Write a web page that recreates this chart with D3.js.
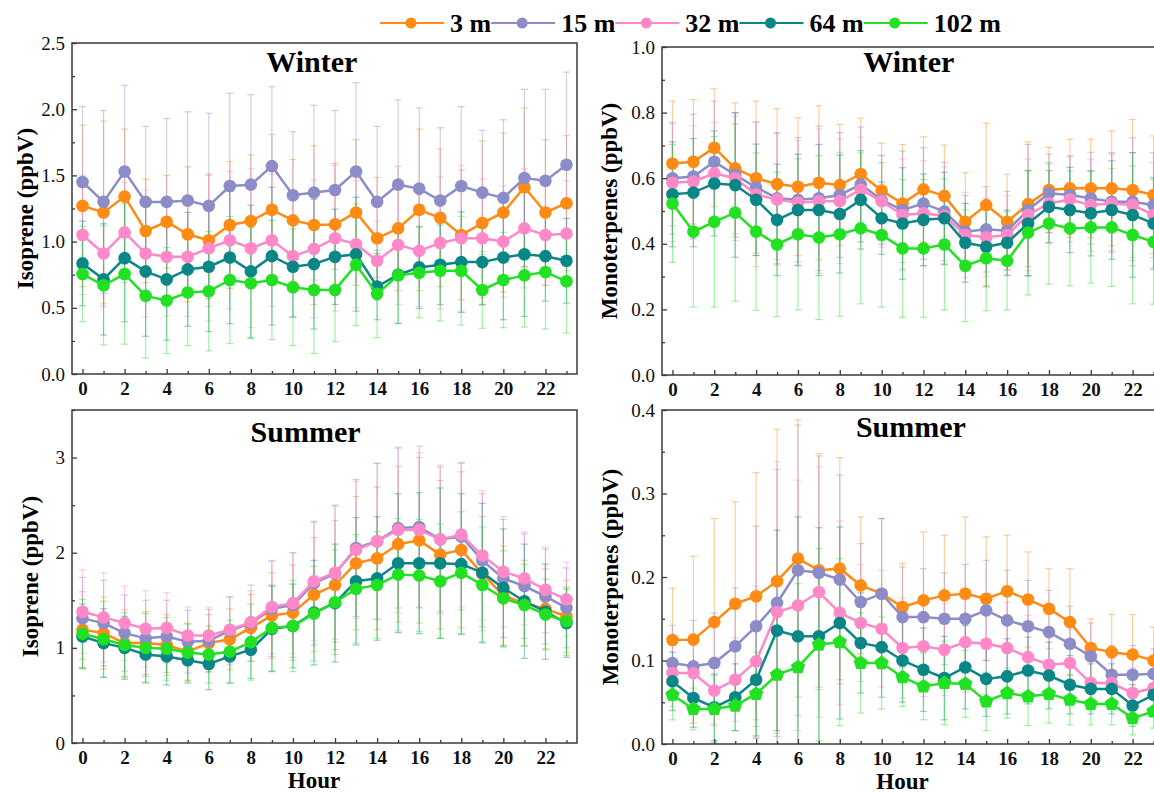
<!DOCTYPE html>
<html>
<head>
<meta charset="utf-8">
<script src="https://cdn.jsdelivr.net/npm/d3@7/dist/d3.min.js"></script>
<style>
  body { margin: 0; background: #fff; }
  svg { display: block; font-family: "Liberation Serif", "Times New Roman", serif; }
</style>
</head>
<body>
<div id="chart"></div>
<script>
const width = 1154;
const height = 793;

const hours = [0,1,2,3,4,5,6,7,8,9,10,11,12,13,14,15,16,17,18,19,20,21,22,23];
const heights = ['3 m', '15 m', '32 m', '64 m', '102 m'];
const colorList = ['#ff8a14', '#8c8cc8', '#ff88c8', '#0b8686', '#22e022'];

// winter isoprene, ppbV (mean / std), one row per height
const winterIsoMean = [
  [1.27,1.22,1.34,1.08,1.15,1.055,1.01,1.125,1.155,1.24,1.16,1.125,1.13,1.22,1.025,1.10,1.24,1.18,1.05,1.14,1.22,1.41,1.22,1.29],
  [1.45,1.30,1.53,1.30,1.30,1.31,1.27,1.42,1.43,1.57,1.35,1.37,1.39,1.53,1.30,1.43,1.40,1.31,1.42,1.37,1.33,1.48,1.46,1.58],
  [1.05,0.91,1.07,0.91,0.885,0.885,0.95,1.01,0.95,1.01,0.89,0.945,1.025,0.98,0.855,0.975,0.93,0.99,1.025,1.025,1.0,1.10,1.05,1.06],
  [0.835,0.715,0.875,0.775,0.715,0.79,0.81,0.88,0.775,0.89,0.81,0.83,0.885,0.905,0.66,0.75,0.805,0.825,0.845,0.845,0.88,0.905,0.89,0.855],
  [0.755,0.67,0.755,0.59,0.555,0.615,0.625,0.71,0.685,0.71,0.655,0.635,0.635,0.825,0.605,0.745,0.765,0.78,0.78,0.635,0.71,0.745,0.77,0.70]
];
const winterIsoSd = [
  [0.61,0.69,0.51,0.39,0.35,0.51,0.50,0.48,0.50,0.57,0.46,0.60,0.46,0.55,0.46,0.47,0.61,0.52,0.49,0.62,0.60,0.60,0.55,0.51],
  [0.57,0.69,0.65,0.57,0.63,0.67,0.70,0.70,0.68,0.60,0.48,0.66,0.60,0.67,0.57,0.64,0.61,0.55,0.60,0.47,0.59,0.67,0.69,0.70],
  [0.45,0.40,0.38,0.48,0.45,0.45,0.55,0.52,0.60,0.50,0.46,0.52,0.55,0.48,0.30,0.45,0.42,0.50,0.55,0.45,0.42,0.45,0.38,0.40],
  [0.32,0.42,0.48,0.49,0.46,0.43,0.49,0.50,0.50,0.52,0.38,0.49,0.36,0.43,0.25,0.37,0.31,0.30,0.38,0.32,0.47,0.47,0.34,0.32],
  [0.36,0.45,0.53,0.47,0.40,0.40,0.45,0.48,0.42,0.45,0.44,0.48,0.39,0.46,0.33,0.36,0.34,0.38,0.41,0.29,0.36,0.39,0.43,0.39]
];

// winter monoterpenes
const winterMonoMean = [
  [0.645,0.65,0.693,0.63,0.60,0.582,0.574,0.586,0.579,0.613,0.562,0.523,0.566,0.546,0.467,0.518,0.467,0.521,0.564,0.569,0.569,0.569,0.564,0.549],
  [0.60,0.605,0.65,0.61,0.572,0.539,0.534,0.539,0.549,0.581,0.534,0.503,0.523,0.498,0.437,0.444,0.44,0.503,0.554,0.549,0.539,0.528,0.528,0.518],
  [0.586,0.59,0.615,0.60,0.55,0.535,0.525,0.53,0.53,0.565,0.53,0.488,0.493,0.485,0.427,0.42,0.427,0.488,0.523,0.535,0.518,0.523,0.518,0.488],
  [0.551,0.556,0.584,0.579,0.534,0.473,0.503,0.503,0.491,0.534,0.478,0.462,0.473,0.478,0.403,0.391,0.403,0.462,0.513,0.503,0.493,0.503,0.488,0.462],
  [0.523,0.437,0.467,0.495,0.437,0.398,0.429,0.419,0.429,0.447,0.427,0.386,0.386,0.398,0.333,0.356,0.348,0.434,0.462,0.447,0.45,0.45,0.427,0.406]
];
const winterMonoSd = [
  [0.19,0.19,0.18,0.20,0.235,0.23,0.21,0.235,0.185,0.17,0.145,0.18,0.16,0.155,0.15,0.25,0.145,0.19,0.13,0.15,0.15,0.175,0.215,0.18],
  [0.17,0.19,0.185,0.19,0.20,0.20,0.19,0.22,0.19,0.175,0.135,0.18,0.17,0.15,0.11,0.13,0.12,0.20,0.12,0.12,0.14,0.15,0.195,0.16],
  [0.18,0.17,0.155,0.19,0.22,0.20,0.19,0.22,0.19,0.16,0.14,0.17,0.16,0.15,0.13,0.12,0.12,0.17,0.12,0.13,0.14,0.15,0.16,0.16],
  [0.16,0.165,0.16,0.22,0.17,0.17,0.17,0.20,0.18,0.15,0.11,0.17,0.14,0.14,0.12,0.12,0.10,0.16,0.11,0.13,0.13,0.15,0.19,0.14],
  [0.18,0.23,0.26,0.27,0.24,0.22,0.23,0.25,0.25,0.23,0.22,0.21,0.21,0.20,0.17,0.16,0.15,0.19,0.185,0.175,0.17,0.18,0.21,0.19]
];

// summer isoprene
const summerIsoMean = [
  [1.19,1.155,1.05,1.05,1.03,0.96,1.05,1.09,1.21,1.34,1.37,1.56,1.66,1.89,1.94,2.09,2.13,1.98,2.03,1.78,1.55,1.47,1.41,1.33],
  [1.31,1.26,1.155,1.10,1.12,1.065,1.075,1.18,1.26,1.41,1.45,1.68,1.78,2.05,2.12,2.26,2.27,2.14,2.17,1.92,1.73,1.65,1.54,1.42],
  [1.38,1.32,1.26,1.20,1.21,1.13,1.13,1.19,1.27,1.43,1.47,1.70,1.79,2.03,2.12,2.24,2.24,2.14,2.19,1.97,1.80,1.73,1.61,1.51],
  [1.12,1.05,1.00,0.93,0.91,0.87,0.83,0.91,0.98,1.20,1.23,1.37,1.47,1.70,1.73,1.89,1.89,1.89,1.88,1.79,1.63,1.49,1.38,1.26],
  [1.15,1.09,1.03,1.00,0.99,0.95,0.93,0.96,1.06,1.21,1.23,1.36,1.48,1.62,1.66,1.77,1.76,1.70,1.79,1.66,1.52,1.45,1.35,1.28]
];
const summerIsoSd = [
  [0.40,0.38,0.35,0.33,0.32,0.30,0.30,0.32,0.35,0.45,0.50,0.60,0.68,0.70,0.75,0.82,0.87,0.78,0.82,0.60,0.52,0.45,0.42,0.38],
  [0.43,0.45,0.40,0.40,0.38,0.33,0.33,0.36,0.40,0.50,0.55,0.65,0.72,0.72,0.82,0.84,0.85,0.76,0.77,0.70,0.62,0.55,0.50,0.42],
  [0.44,0.47,0.39,0.40,0.37,0.30,0.30,0.34,0.33,0.49,0.53,0.62,0.70,0.72,0.82,0.87,0.81,0.78,0.76,0.68,0.58,0.49,0.45,0.39],
  [0.34,0.36,0.33,0.30,0.30,0.24,0.27,0.28,0.30,0.45,0.44,0.55,0.62,0.67,0.65,0.73,0.74,0.79,0.74,0.73,0.62,0.60,0.50,0.36],
  [0.36,0.40,0.34,0.36,0.33,0.30,0.30,0.33,0.40,0.45,0.48,0.50,0.55,0.57,0.56,0.59,0.59,0.60,0.64,0.61,0.50,0.43,0.37,0.36]
];

// summer monoterpenes
const summerMonoMean = [
  [0.1245,0.125,0.146,0.168,0.177,0.195,0.222,0.208,0.21,0.19,0.18,0.164,0.172,0.178,0.18,0.174,0.183,0.173,0.162,0.146,0.115,0.11,0.107,0.10],
  [0.097,0.093,0.097,0.117,0.141,0.169,0.208,0.205,0.197,0.17,0.18,0.152,0.152,0.15,0.15,0.16,0.148,0.141,0.134,0.12,0.105,0.083,0.083,0.084],
  [0.085,0.085,0.064,0.077,0.099,0.158,0.166,0.182,0.157,0.145,0.138,0.115,0.117,0.113,0.122,0.12,0.115,0.104,0.095,0.097,0.073,0.073,0.061,0.067],
  [0.075,0.055,0.044,0.056,0.077,0.136,0.129,0.129,0.145,0.121,0.116,0.10,0.089,0.079,0.092,0.078,0.081,0.088,0.082,0.071,0.066,0.066,0.046,0.059],
  [0.059,0.042,0.042,0.046,0.06,0.083,0.092,0.119,0.122,0.097,0.097,0.08,0.069,0.073,0.072,0.051,0.061,0.057,0.06,0.053,0.048,0.048,0.031,0.039]
];
const summerMonoSd = [
  [0.062,0.10,0.124,0.122,0.148,0.182,0.166,0.14,0.133,0.082,0.09,0.052,0.082,0.072,0.092,0.074,0.067,0.057,0.048,0.064,0.035,0.045,0.048,0.04],
  [0.045,0.055,0.06,0.07,0.12,0.16,0.174,0.14,0.125,0.07,0.09,0.06,0.058,0.055,0.065,0.06,0.06,0.055,0.05,0.045,0.04,0.035,0.035,0.03],
  [0.04,0.045,0.04,0.05,0.09,0.18,0.15,0.15,0.11,0.07,0.07,0.06,0.06,0.055,0.06,0.06,0.055,0.05,0.04,0.04,0.03,0.03,0.03,0.03],
  [0.035,0.035,0.04,0.04,0.07,0.12,0.143,0.13,0.115,0.06,0.06,0.05,0.05,0.05,0.05,0.045,0.045,0.04,0.04,0.035,0.03,0.03,0.025,0.025],
  [0.03,0.025,0.04,0.03,0.05,0.09,0.10,0.115,0.10,0.06,0.055,0.035,0.04,0.05,0.04,0.035,0.03,0.035,0.035,0.03,0.025,0.025,0.02,0.02]
];

const winterIsoTicks = [0, 0.5, 1.0, 1.5, 2.0, 2.5];
const winterMonoTicks = [0, 0.2, 0.4, 0.6, 0.8, 1.0];
const summerIsoTicks = [0, 1, 2, 3];
const summerMonoTicks = [0, 0.1, 0.2, 0.3, 0.4];
const hourTicks = [0, 2, 4, 6, 8, 10, 12, 14, 16, 18, 20, 22];

const color = d3.scaleOrdinal().domain(heights).range(colorList);

const svg = d3.select('#chart').append('svg')
  .attr('width', width)
  .attr('height', height);

const panels = [
  { id: 'wi', title: 'Winter', label: 'Isoprene (ppbV)', mean: winterIsoMean, sd: winterIsoSd,
    yMax: 2.5, ticks: winterIsoTicks, minor: 0.25, fmt: '.1f',
    left: 72, right: 577, top: 43, bottom: 374, titleHour: 10.9, titleY: 72, labelX: 25, hourLabel: false },
  { id: 'wm', title: 'Winter', label: 'Monoterpenes (ppbV)', mean: winterMonoMean, sd: winterMonoSd,
    yMax: 1.0, ticks: winterMonoTicks, minor: 0.1, fmt: '.1f',
    left: 662, right: 1164, top: 47, bottom: 375, titleHour: 11.3, titleY: 72, labelX: 609, hourLabel: false },
  { id: 'si', title: 'Summer', label: 'Isoprene (ppbV)', mean: summerIsoMean, sd: summerIsoSd,
    yMax: 3.5, ticks: summerIsoTicks, minor: 0.5, fmt: 'd',
    left: 72, right: 577, top: 410, bottom: 743, titleHour: 10.6, titleY: 442, labelX: 30, hourLabel: true },
  { id: 'sm', title: 'Summer', label: 'Monoterpenes (ppbV)', mean: summerMonoMean, sd: summerMonoSd,
    yMax: 0.4, ticks: summerMonoTicks, minor: 0.05, fmt: '.1f', pentagon: true,
    left: 662, right: 1164, top: 410, bottom: 744, titleHour: 11.4, titleY: 437, labelX: 610, hourLabel: true }
];

panels.forEach(drawPanel);
drawLegend();

function pentagonPath(r) {
  const pts = [0, 1, 2, 3, 4].map(i => {
    const a = -Math.PI / 2 + i * 2 * Math.PI / 5;
    return [r * Math.cos(a), r * Math.sin(a)];
  });
  return d3.line()(pts) + 'Z';
}

function drawPanel(p) {
  const x = d3.scaleLinear().domain([-0.5, 23.5]).range([p.left, p.right]);
  const y = d3.scaleLinear().domain([0, p.yMax]).range([p.bottom, p.top]);
  const g = svg.append('g');

  g.append('clipPath').attr('id', 'clip-' + p.id)
    .append('rect')
    .attr('x', p.left).attr('y', p.top)
    .attr('width', p.right - p.left).attr('height', p.bottom - p.top);

  const plot = g.append('g').attr('clip-path', `url(#clip-${p.id})`);

  // error bars first, all series
  heights.forEach((h, k) => {
    const pts = hours.map(i => ({ hr: i, m: p.mean[k][i], s: p.sd[k][i] }));
    const eb = plot.append('g')
      .attr('stroke', color(h))
      .attr('stroke-opacity', 0.42)
      .attr('stroke-width', 1.2);
    eb.selectAll('line.v').data(pts).join('line')
      .attr('class', 'v')
      .attr('x1', d => x(d.hr)).attr('x2', d => x(d.hr))
      .attr('y1', d => y(d.m - d.s)).attr('y2', d => y(d.m + d.s));
    eb.selectAll('line.t').data(pts).join('line')
      .attr('class', 't')
      .attr('x1', d => x(d.hr) - 3.5).attr('x2', d => x(d.hr) + 3.5)
      .attr('y1', d => y(d.m + d.s)).attr('y2', d => y(d.m + d.s));
    eb.selectAll('line.b').data(pts).join('line')
      .attr('class', 'b')
      .attr('x1', d => x(d.hr) - 3.5).attr('x2', d => x(d.hr) + 3.5)
      .attr('y1', d => y(d.m - d.s)).attr('y2', d => y(d.m - d.s));
  });

  const line = d3.line().x((d, i) => x(hours[i])).y(d => y(d));

  heights.forEach((h, k) => {
    plot.append('path')
      .datum(p.mean[k])
      .attr('fill', 'none')
      .attr('stroke', color(h))
      .attr('stroke-width', 2.5)
      .attr('d', line);

    if (p.pentagon && k === 4) {
      plot.selectAll('path.m' + k).data(p.mean[k]).join('path')
        .attr('class', 'm' + k)
        .attr('d', pentagonPath(7.5))
        .attr('transform', (d, i) => `translate(${x(hours[i])},${y(d)})`)
        .attr('fill', color(h));
    } else {
      plot.selectAll('circle.m' + k).data(p.mean[k]).join('circle')
        .attr('class', 'm' + k)
        .attr('cx', (d, i) => x(hours[i]))
        .attr('cy', d => y(d))
        .attr('r', 6.3)
        .attr('fill', color(h));
    }
  });

  // frame
  g.append('rect')
    .attr('x', p.left).attr('y', p.top)
    .attr('width', p.right - p.left).attr('height', p.bottom - p.top)
    .attr('fill', 'none')
    .attr('stroke', '#3a3a3a')
    .attr('stroke-width', 1.5);

  // x axis, ticks pointing in
  const xAxis = g.append('g')
    .attr('transform', `translate(0,${p.bottom})`)
    .call(d3.axisBottom(x).tickValues(hourTicks).tickSize(-5).tickPadding(8))
    .call(a => a.select('.domain').remove());
  xAxis.selectAll('text')
    .attr('font-size', 19).attr('font-weight', 'bold')
    .attr('font-family', '"Liberation Serif", serif').attr('fill', '#111');
  g.append('g')
    .attr('transform', `translate(0,${p.bottom})`)
    .call(d3.axisBottom(x).tickValues(hours.filter(d => d % 2 === 1)).tickSize(-3).tickFormat(''))
    .call(a => a.select('.domain').remove());

  // y axis
  const yAxis = g.append('g')
    .attr('transform', `translate(${p.left},0)`)
    .call(d3.axisLeft(y).tickValues(p.ticks).tickSize(-5).tickPadding(7).tickFormat(d3.format(p.fmt)))
    .call(a => a.select('.domain').remove());
  yAxis.selectAll('text')
    .attr('font-size', 19)
    .attr('font-family', '"Liberation Serif", serif').attr('fill', '#111');
  const minorVals = d3.range(0, p.yMax + 1e-9, p.minor).filter(v => !p.ticks.some(t => Math.abs(t - v) < 1e-9));
  g.append('g')
    .attr('transform', `translate(${p.left},0)`)
    .call(d3.axisLeft(y).tickValues(minorVals).tickSize(-3).tickFormat(''))
    .call(a => a.select('.domain').remove());

  g.selectAll('.tick line').attr('stroke', '#3a3a3a').attr('stroke-width', 1.3);

  // title
  g.append('text')
    .attr('x', x(p.titleHour)).attr('y', p.titleY)
    .attr('text-anchor', 'middle')
    .attr('font-size', 30).attr('font-weight', 'bold')
    .text(p.title);

  // y label
  g.append('text')
    .attr('transform', `translate(${p.labelX},${(p.top + p.bottom) / 2}) rotate(-90)`)
    .attr('dy', '0.35em')
    .attr('text-anchor', 'middle')
    .attr('font-size', 23).attr('font-weight', 'bold')
    .text(p.label);

  if (p.hourLabel) {
    g.append('text')
      .attr('x', x(11)).attr('y', p.bottom + 45)
      .attr('text-anchor', 'middle')
      .attr('font-size', 23).attr('font-weight', 'bold')
      .text('Hour');
  }
}

function drawLegend() {
  const lg = svg.append('g').attr('transform', 'translate(380,23)');
  let cx = 0;
  heights.forEach(h => {
    lg.append('line')
      .attr('x1', cx).attr('x2', cx + 64)
      .attr('y1', 0).attr('y2', 0)
      .attr('stroke', color(h)).attr('stroke-width', 2);
    lg.append('circle')
      .attr('cx', cx + 31).attr('cy', 0).attr('r', 5.5)
      .attr('fill', color(h));
    const t = lg.append('text')
      .attr('x', cx + 70).attr('y', 0)
      .attr('dy', '0.35em')
      .attr('font-size', 26).attr('font-weight', 'bold')
      .text(h);
    cx += 70 + t.node().getComputedTextLength();
  });
}
</script>
</body>
</html>
